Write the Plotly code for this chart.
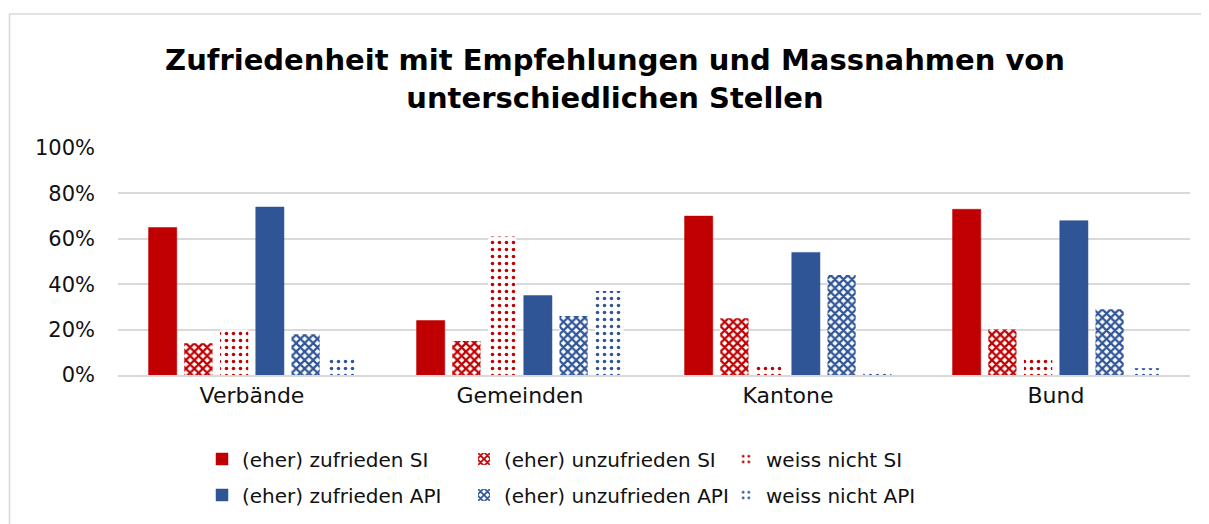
import plotly.graph_objects as go

categories = ["Verbände", "Gemeinden", "Kantone", "Bund"]

zufrieden_si = [0.65, 0.24, 0.70, 0.73]
unzufrieden_si = [0.14, 0.15, 0.25, 0.20]
weiss_nicht_si = [0.20, 0.61, 0.05, 0.07]
zufrieden_api = [0.74, 0.35, 0.54, 0.68]
unzufrieden_api = [0.18, 0.26, 0.44, 0.29]
weiss_nicht_api = [0.07, 0.37, 0.02, 0.03]

tick_vals = [0, 0.2, 0.4, 0.6, 0.8, 1.0]
tick_text = ["0%", "20%", "40%", "60%", "80%", "100%"]

RED = "#c00000"
BLUE = "#2f5597"
FONT = "DejaVu Sans, Arial, sans-serif"

# page has an 8px body margin, so the figure is drawn 8px right/down
OFF = 8
W, H = 1209 - OFF, 524 - OFF
L, R, T, B = 118 - OFF, 19, 148 - OFF, 524 - 375
pw, ph = W - L - R, H - T - B


def px_x(x):
    # page pixel -> paper coordinate
    return (x - OFF - L) / pw


def px_y(y):
    return (H - B - (y - OFF)) / ph


series = [
    ("(eher) zufrieden SI", zufrieden_si, RED, "", "legend"),
    ("(eher) unzufrieden SI", unzufrieden_si, RED, "x", "legend"),
    ("weiss nicht SI", weiss_nicht_si, RED, ".", "legend"),
    ("(eher) zufrieden API", zufrieden_api, BLUE, "", "legend2"),
    ("(eher) unzufrieden API", unzufrieden_api, BLUE, "x", "legend2"),
    ("weiss nicht API", weiss_nicht_api, BLUE, ".", "legend2"),
]

fig = go.Figure()

for name, vals, color, shape, leg in series:
    if shape == "":
        marker = dict(color=color, line=dict(color=color, width=0.5))
    elif shape == "x":
        marker = dict(color=color, line=dict(width=0),
                      pattern=dict(shape="x", size=6, solidity=0.6,
                                   fgcolor=color, bgcolor="white", fillmode="replace"))
    else:
        marker = dict(color=color, line=dict(width=0),
                      pattern=dict(shape=".", size=7, solidity=0.2,
                                   fgcolor=color, bgcolor="white", fillmode="replace"))
    fig.add_trace(go.Bar(x=categories, y=vals, name=name, marker=marker, legend=leg))

legend_style = dict(
    orientation="h",
    xanchor="left",
    yanchor="middle",
    font=dict(family=FONT, size=20, color="#111"),
    bgcolor="rgba(0,0,0,0)",
    entrywidth=217,
    itemwidth=30,
    tracegroupgap=0,
)

fig.update_layout(
    width=W,
    height=H,
    margin=dict(l=L, r=R, t=T, b=B, pad=0, autoexpand=False),
    paper_bgcolor="white",
    plot_bgcolor="white",
    barmode="group",
    bargap=0.2,
    bargroupgap=0.21,
    title=dict(
        text="<b>Zufriedenheit mit Empfehlungen und Massnahmen von<br>unterschiedlichen Stellen</b>",
        x=(615 - OFF) / W, xanchor="center", xref="container",
        y=1 - 62 / H, yanchor="middle",
        font=dict(family=FONT, size=29, color="#000"),
    ),
    font=dict(family=FONT, size=21, color="#111"),
    legend=dict(legend_style, x=px_x(202), y=px_y(459)),
    legend2=dict(legend_style, x=px_x(202), y=px_y(495)),
    xaxis=dict(
        showgrid=False,
        showline=True,
        linecolor="#d9d9d9",
        linewidth=1.5,
        ticks="",
        tickfont=dict(family=FONT, size=22, color="#111"),
    ),
    yaxis=dict(
        range=[0, 1.0],
        tickvals=tick_vals,
        ticktext=tick_text,
        showgrid=True,
        gridcolor="#d9d9d9",
        gridwidth=1.5,
        zeroline=False,
        showline=False,
        ticks="",
        ticklabelstandoff=22,
        tickfont=dict(family=FONT, size=21, color="#111"),
    ),
    shapes=[
        dict(type="line", xref="paper", yref="paper",
             x0=px_x(9), x1=px_x(1209), y0=px_y(14), y1=px_y(14),
             line=dict(color="#d9d9d9", width=1.5)),
        dict(type="line", xref="paper", yref="paper",
             x0=px_x(9.5), x1=px_x(9.5), y0=px_y(14), y1=px_y(524),
             line=dict(color="#d9d9d9", width=1.5)),
    ],
)

fig.write_html("out.html")
